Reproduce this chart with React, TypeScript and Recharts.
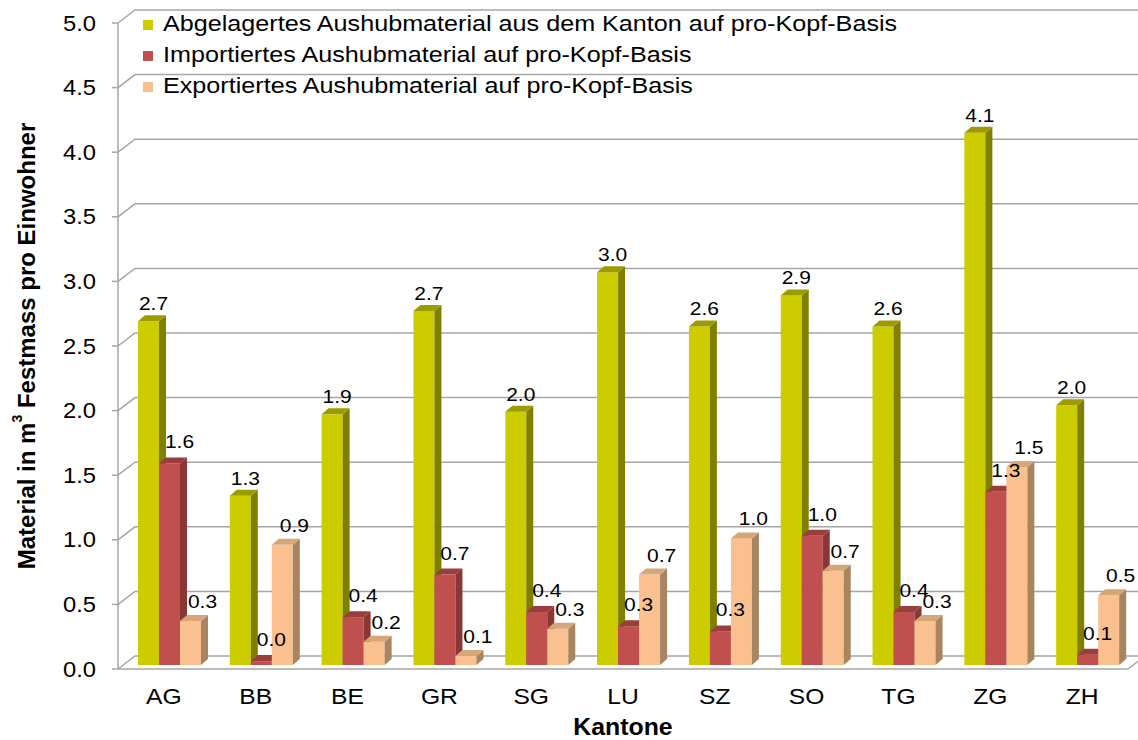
import React from "react";
import { BarChart, Bar, XAxis, YAxis, CartesianGrid, Legend, LabelList } from "recharts";

// Kantone and per-capita values (m3 Festmass pro Einwohner)
const kantone = ["AG", "BB", "BE", "GR", "SG", "LU", "SZ", "SO", "TG", "ZG", "ZH"];
const abgelagert = [2.66, 1.31, 1.94, 2.74, 1.96, 3.04, 2.62, 2.86, 2.62, 4.12, 2.01];
const importiert = [1.56, 0.03, 0.37, 0.7, 0.41, 0.3, 0.26, 1.0, 0.41, 1.34, 0.08];
const exportiert = [0.34, 0.93, 0.18, 0.07, 0.28, 0.7, 0.98, 0.73, 0.34, 1.53, 0.54];
const yTicks = [0, 0.5, 1, 1.5, 2, 2.5, 3, 3.5, 4, 4.5, 5];
const seriesNames = [
  "Abgelagertes Aushubmaterial aus dem Kanton auf pro-Kopf-Basis",
  "Importiertes Aushubmaterial auf pro-Kopf-Basis",
  "Exportiertes Aushubmaterial auf pro-Kopf-Basis",
];

const rows = kantone.map((k, i) => ({
  kanton: k,
  abgelagert: abgelagert[i],
  importiert: importiert[i],
  exportiert: exportiert[i],
}));

const FONT = "'Liberation Sans', Arial, sans-serif";
const W = 1138;
const H = 740;
const PLOT_BOTTOM = 669;
// 3d look
const DX = 7;
const DY = 6;
const SHIFT_X = 6;
const SHIFT_Y = -4;
const WALL_X = 17;
const WALL_Y = 13;

const colors = {
  green: { front: "#cccc00", side: "#808000", top: "#9c9c00" },
  red: { front: "#c0504d", side: "#8a3634", top: "#9a3e3b" },
  orange: { front: "#fac090", side: "#a8845f", top: "#d6a578" },
};

const make3D = (c: { front: string; side: string; top: string }) => (props: any) => {
  const { x, y, width, height } = props;
  if (x == null || width == null) return <g />;
  const x0 = x + SHIFT_X;
  const y0 = y + SHIFT_Y;
  const w = width;
  const h = height;
  return (
    <g>
      <rect x={x0} y={y0} width={w} height={h} fill={c.front} />
      <polygon
        points={`${x0 + w},${y0} ${x0 + w + DX},${y0 - DY} ${x0 + w + DX},${y0 + h - DY} ${x0 + w},${y0 + h}`}
        fill={c.side}
      />
      <polygon
        points={`${x0},${y0} ${x0 + DX},${y0 - DY} ${x0 + w + DX},${y0 - DY} ${x0 + w},${y0}`}
        fill={c.top}
      />
    </g>
  );
};

const makeLabel = (dx: number, dy: number) => (props: any) => {
  const vb = props.viewBox && props.viewBox.x != null ? props.viewBox : props;
  const { x, y, width } = vb;
  if (x == null) return null;
  const cx = x + width / 2 + SHIFT_X + dx;
  const by = y + SHIFT_Y - dy;
  return (
    <text
      x={cx}
      y={by}
      textAnchor="middle"
      fontSize={17.5}
      fontFamily={FONT}
      fill="#000"
      transform={`translate(${cx} 0) scale(1.2 1) translate(${-cx} 0)`}
    >
      {Number(props.value).toFixed(1)}
    </text>
  );
};

const gridLine = (props: any) => {
  const { x1, y1, x2 } = props;
  const bottom = Math.abs(y1 - PLOT_BOTTOM) < 1.5;
  return (
    <g key={props.key}>
      <polyline
        points={`${x1},${y1} ${x1 + WALL_X},${y1 - WALL_Y} ${x2 + WALL_X},${y1 - WALL_Y}`}
        fill="none"
        stroke="#a6a6a6"
        strokeWidth={1.5}
      />
      {bottom && (
        <line x1={x2} y1={y1} x2={x2 + WALL_X} y2={y1 - WALL_Y} stroke="#a6a6a6" strokeWidth={1.5} />
      )}
    </g>
  );
};

const YTick = (props: any) => {
  const { x, y, payload } = props;
  return (
    <text
      x={x}
      y={y}
      textAnchor="end"
      dominantBaseline="central"
      fontSize={22}
      fontFamily={FONT}
      fill="#000"
      transform={`translate(${x} 0) scale(1.08 1) translate(${-x} 0)`}
    >
      {Number(payload.value).toFixed(1)}
    </text>
  );
};

const XTick = (props: any) => {
  const { x, y, payload } = props;
  return (
    <text
      x={x}
      y={y + 35}
      textAnchor="middle"
      fontSize={22}
      fontFamily={FONT}
      fill="#000"
      transform={`translate(${x} 0) scale(1.12 1) translate(${-x} 0)`}
    >
      {payload.value}
    </text>
  );
};

const XTitle = (props: any) => {
  const vb = props.viewBox || {};
  const cx = vb.x + vb.width / 2;
  return (
    <text
      x={cx}
      y={vb.y + 66}
      textAnchor="middle"
      fontSize={23}
      fontWeight="bold"
      fontFamily={FONT}
      fill="#000"
      transform={`translate(${cx} 0) scale(1.08 1) translate(${-cx} 0)`}
    >
      Kantone
    </text>
  );
};

const YTitle = (props: any) => {
  const vb = props.viewBox || {};
  const cx = vb.x + 26;
  const cy = vb.y + vb.height / 2;
  return (
    <text
      x={0}
      y={0}
      textAnchor="middle"
      dominantBaseline="central"
      fontSize={24}
      fontWeight="bold"
      fontFamily={FONT}
      fill="#000"
      transform={`translate(${cx} ${cy}) rotate(-90)`}
    >
      Material in m<tspan fontSize={14} dy={-9}>3</tspan>
      <tspan dy={9}> Festmass pro Einwohner</tspan>
    </text>
  );
};

const legendColors = [colors.green.front, colors.red.front, colors.orange.front];

const LegendBox = () => (
  <div style={{ fontFamily: FONT, fontSize: 21.5, color: "#000" }}>
    {seriesNames.map((n, i) => (
      <div key={n} style={{ display: "flex", alignItems: "center", height: 31, whiteSpace: "nowrap" }}>
        <span style={{ width: 10, height: 10, background: legendColors[i], marginRight: 10, flex: "none" }} />
        <span style={{ display: "inline-block", transform: "scaleX(1.17)", transformOrigin: "left center" }}>{n}</span>
      </div>
    ))}
  </div>
);

const App: React.FC = () => {
  return (
    <div style={{ position: "absolute", left: 0, top: 0, width: W, height: H, overflow: "hidden", background: "#fff" }}>
      <BarChart
        width={W}
        height={H}
        data={rows}
        margin={{ top: 23, right: 10, left: 0, bottom: 0 }}
        barGap={0}
      >
        <CartesianGrid vertical={false} horizontal={gridLine} />
        <XAxis
          dataKey="kanton"
          height={71}
          axisLine={{ stroke: "#a6a6a6", strokeWidth: 1.5 }}
          tickLine={false}
          tickSize={0}
          tickMargin={0}
          tick={<XTick />}
          interval={0}
          label={{ content: XTitle }}
        />
        <YAxis
          width={118}
          domain={[0, 5]}
          ticks={yTicks}
          axisLine={{ stroke: "#a6a6a6", strokeWidth: 1.5 }}
          tickLine={{ stroke: "#a6a6a6", strokeWidth: 1.5 }}
          tickSize={6}
          tickMargin={16}
          tick={<YTick />}
          interval={0}
          label={{ content: YTitle }}
        />
        <Legend
          layout="horizontal"
          verticalAlign="middle"
          align="center"
          wrapperStyle={{ top: 9, left: 143, width: "auto", height: "auto" }}
          content={<LegendBox />}
        />
        <Bar
          dataKey="abgelagert"
          name={seriesNames[0]}
          fill={colors.green.front}
          barSize={21}
          shape={make3D(colors.green)}
          isAnimationActive={false}
        >
          <LabelList dataKey="abgelagert" content={makeLabel(5, 11)} />
        </Bar>
        <Bar
          dataKey="importiert"
          name={seriesNames[1]}
          fill={colors.red.front}
          barSize={21}
          shape={make3D(colors.red)}
          isAnimationActive={false}
        >
          <LabelList dataKey="importiert" content={makeLabel(10, 15)} />
        </Bar>
        <Bar
          dataKey="exportiert"
          name={seriesNames[2]}
          fill={colors.orange.front}
          barSize={21}
          shape={make3D(colors.orange)}
          isAnimationActive={false}
        >
          <LabelList dataKey="exportiert" content={makeLabel(12, 13)} />
        </Bar>
      </BarChart>
    </div>
  );
};

export default App;
